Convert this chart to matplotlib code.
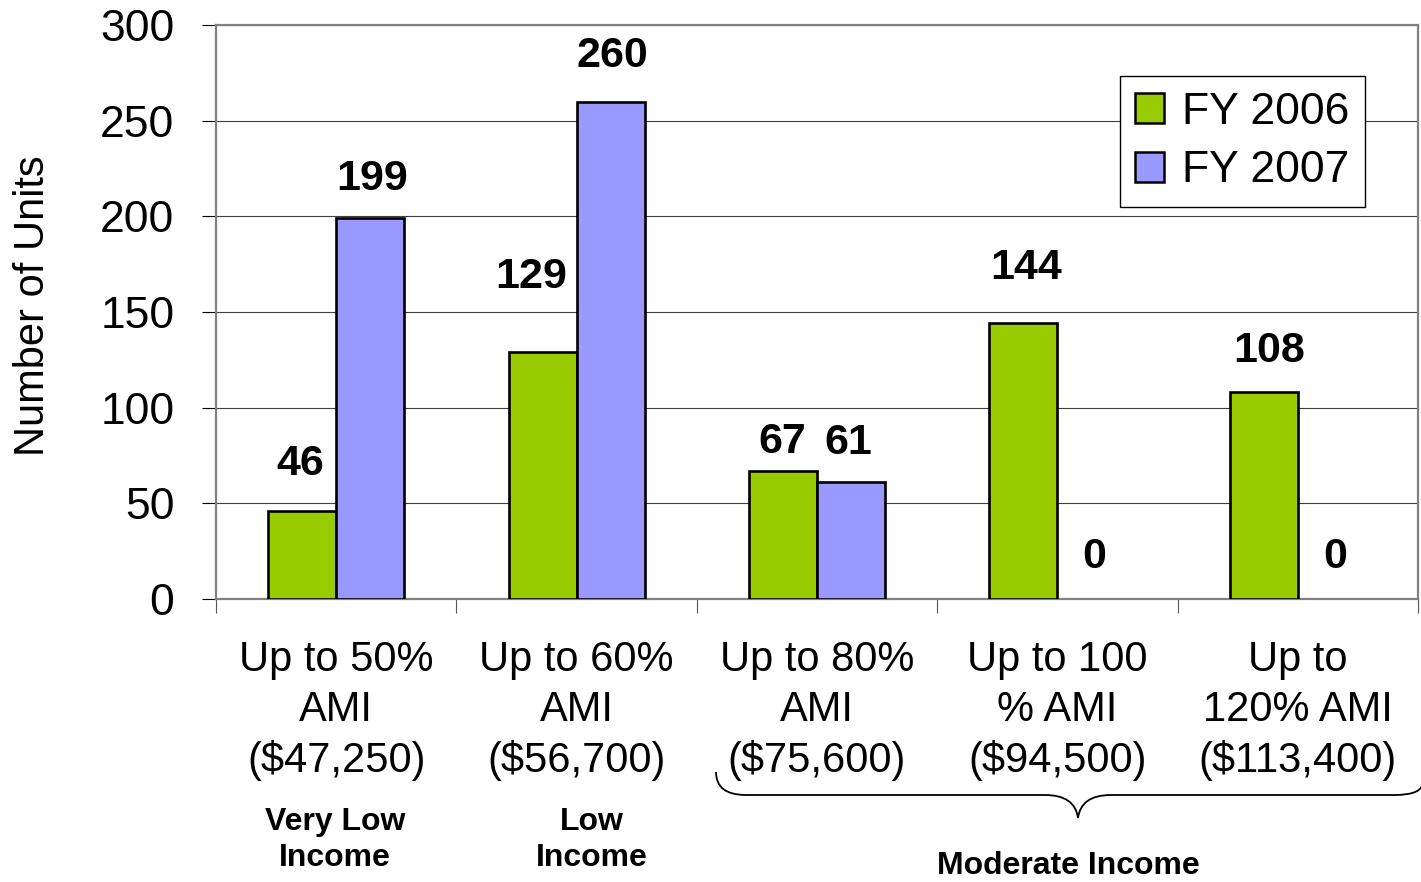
import matplotlib
matplotlib.use("Agg")
import matplotlib.pyplot as plt
import numpy as np
from matplotlib.path import Path
from matplotlib.patches import PathPatch

plt.rcParams['font.family'] = ['Liberation Sans', 'DejaVu Sans']

# ---- data ----
categories = ["Up to 50%\nAMI\n($47,250)", "Up to 60%\nAMI\n($56,700)",
              "Up to 80%\nAMI\n($75,600)", "Up to 100\n% AMI\n($94,500)",
              "Up to\n120% AMI\n($113,400)"]
series_names = ["FY 2006", "FY 2007"]
fy2006 = [46, 129, 67, 144, 108]
fy2007 = [199, 260, 61, 0, 0]
yticks = [0, 50, 100, 150, 200, 250, 300]
group_labels = ["Very Low\nIncome", "Low\nIncome"]
brace_label = "Moderate Income"

# ---- styles / positions ----
GREEN = "#99CC00"
PURPLE = "#9999FF"
W, H = 1421, 882
DPI = 100
fig = plt.figure(figsize=(W / DPI, H / DPI), dpi=DPI)
ax = fig.add_axes([216 / W, 1 - 599 / H, (1418 - 216) / W, (599 - 25) / H])

x = np.arange(len(categories))
bw = 0.283
b1 = ax.bar(x - bw / 2, fy2006, bw, color=GREEN, edgecolor="black", linewidth=1.9,
            label=series_names[0], zorder=3)
b2 = ax.bar(x + bw / 2, fy2007, bw, color=PURPLE, edgecolor="black", linewidth=1.9,
            label=series_names[1], zorder=3)
for bars, vals in ((b1, fy2006), (b2, fy2007)):
    for rect, v in zip(bars, vals):
        if v == 0:
            rect.set_edgecolor('none')

ax.set_xlim(-0.5, len(categories) - 0.5)
ax.set_ylim(0, 300)
ax.set_yticks(yticks)
ax.tick_params(axis='y', labelsize=32, length=10, width=0.8, color='black', pad=20)
ax.grid(axis='y', color='#404040', linewidth=0.8, zorder=0)
ax.set_axisbelow(True)

# x ticks: boundaries as minor ticks, category labels placed as text
ax.set_xticks([])
ax.set_xticks(np.arange(-0.5, len(categories)), minor=True)
ax.tick_params(axis='x', which='minor', length=10, width=0.8, color='#555555')
ax.tick_params(axis='x', which='major', length=0)

for s in ax.spines.values():
    s.set_color('#808080')
    s.set_linewidth(1.6)

# category labels
for xi, lab in zip(x, categories):
    ax.text(xi, -0.194, lab, transform=ax.get_xaxis_transform(), ha='center',
            va='center', fontsize=30, linespacing=1.32, clip_on=False)

# value labels (pixel offsets from bar top)
offs06 = [(-2, 36), (-11, 64), (-1, 18), (3, 44), (5, 30)]
offs07 = [(2, 28), (2, 35), (-3, 28), (3, 31), (3, 31)]
for bars, vals, offs in ((b1, fy2006, offs06), (b2, fy2007, offs07)):
    for rect, v, (dx, dy) in zip(bars, vals, offs):
        ax.annotate(f"{v}", (rect.get_x() + rect.get_width() / 2, v),
                    xytext=(dx, dy), textcoords='offset pixels', ha='center',
                    va='baseline', fontsize=31, fontweight='bold', zorder=5)

# income group labels
fig.text(335 / W, 1 - 840 / H, group_labels[0], ha='center',
         va='center', fontsize=23, fontweight='bold', linespacing=1.25)
fig.text(592 / W, 1 - 840 / H, group_labels[1], ha='center',
         va='center', fontsize=23, fontweight='bold', linespacing=1.25)
fig.text(1068 / W, 1 - 866 / H, brace_label, ha='center', va='center', fontsize=23,
         fontweight='bold')

# brace
pts = [(716, 772),
       (716, 795), (746, 795),
       (1045, 795),
       (1075, 795), (1078, 818),
       (1081, 795), (1111, 795),
       (1395, 795),
       (1418, 795), (1422, 786)]
codes = [Path.MOVETO,
         Path.CURVE3, Path.CURVE3,
         Path.LINETO,
         Path.CURVE3, Path.CURVE3,
         Path.CURVE3, Path.CURVE3,
         Path.LINETO,
         Path.CURVE3, Path.CURVE3]
verts = [(px / W, 1 - py / H) for px, py in pts]
brace = PathPatch(Path(verts, codes), transform=fig.transFigure, fill=False,
                  edgecolor='black', linewidth=1.3, clip_on=False)
fig.add_artist(brace)

# y label
fig.text(33 / W, 1 - 306 / H, "Number of Units", rotation=90, ha='center', va='center',
         fontsize=30)

# legend
leg = ax.legend(loc='upper right', bbox_to_anchor=((1365 - 216) / 1202, (599 - 76) / 574),
                borderaxespad=0, fontsize=32, frameon=True, fancybox=False,
                edgecolor='black', framealpha=1, handlelength=0.65, handleheight=0.65,
                handletextpad=0.4, labelspacing=0.4, borderpad=0.35)
leg.get_frame().set_linewidth(1.0)
for h in leg.legend_handles:
    h.set_linewidth(1.8)

fig.savefig("out.png", dpi=DPI)
